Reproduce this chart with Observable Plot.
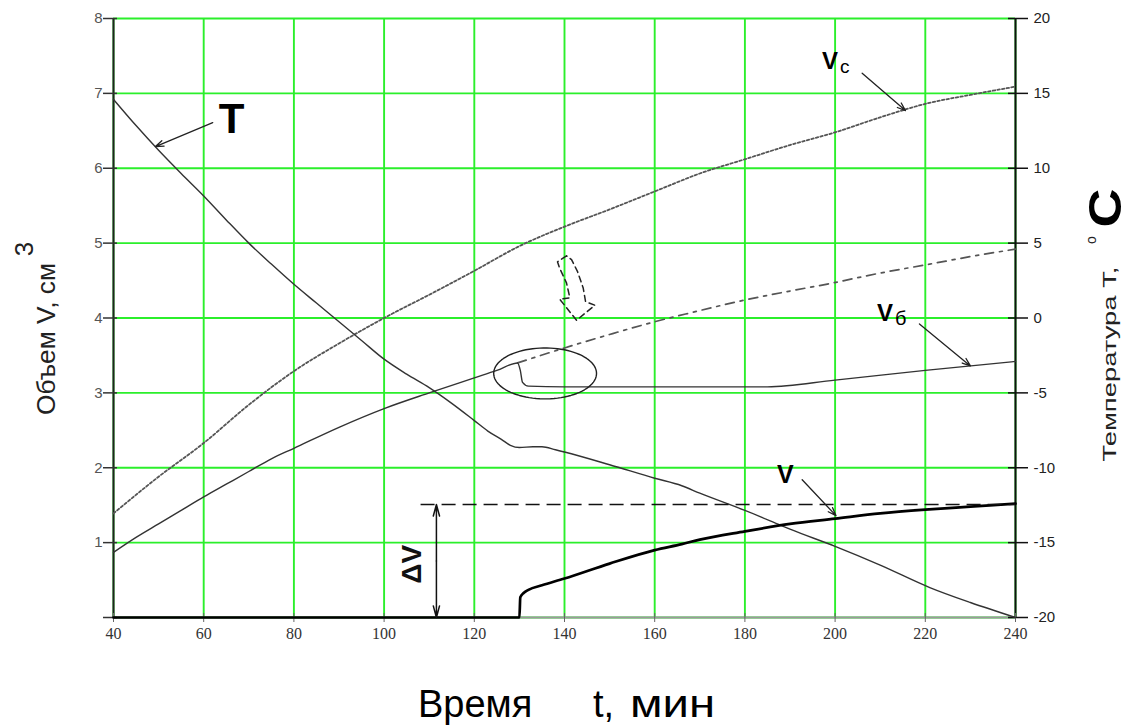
<!DOCTYPE html>
<html><head><meta charset="utf-8">
<script src="https://cdn.jsdelivr.net/npm/d3@7"></script>
<script src="https://cdn.jsdelivr.net/npm/@observablehq/plot@0.6"></script>
<style>body{margin:0;background:#fff;} svg{display:block}</style>
</head><body><div id="chart"></div>
<script>
// ---- data ----
const xTicks = [40, 60, 80, 100, 120, 140, 160, 180, 200, 220, 240];
const vTicks = [0, 1, 2, 3, 4, 5, 6, 7, 8];
const vTickLabels = ["", "1", "2", "3", "4", "5", "6", "7", "8"];
const tempTickLabels = ["-20", "-15", "-10", "-5", "0", "5", "10", "15", "20"];

// temperature T (°C), right axis
const tempTime = [40,45,50,55,60,65,70,75,80,85,90,95,100,105,110,115,120,123,126,128,130,133,135,138,140,150,160,166,170,180,188,190,200,210,221,230,240];
const tempC = [14.6,12.85,11.2,9.65,8.15,6.55,5.0,3.6,2.25,1.0,-0.25,-1.5,-2.75,-3.75,-4.65,-5.7,-6.85,-7.55,-8.1,-8.5,-8.65,-8.6,-8.6,-8.8,-8.95,-9.8,-10.7,-11.2,-11.7,-12.85,-13.85,-14.1,-15.25,-16.5,-18.0,-19.0,-20.0];

// Vc (dotted)
const vcTime = [40,50,60,70,80,90,100,110,120,130,140,150,160,170,180,190,200,210,220,230,240];
const vcVol = [1.39,1.88,2.33,2.84,3.29,3.66,4.0,4.31,4.63,4.96,5.22,5.45,5.69,5.93,6.12,6.31,6.48,6.68,6.86,6.98,7.09];

// Vб (solid, with step)
const vbTime = [40,45,50,55,60,65,70,75,80,90,100,110,120,125,129.6,130.2,130.7,132,140,160,185,200,220,240];
const vbVol = [0.87,1.07,1.25,1.43,1.61,1.78,1.95,2.12,2.26,2.54,2.79,3.0,3.2,3.3,3.4,3.3,3.14,3.09,3.08,3.08,3.08,3.17,3.3,3.42];

// Vб extension (dash-dot)
const vbExtTime = [129.6,140,150,160,168,180,190,198,210,221,230,240];
const vbExtVol = [3.4,3.6,3.78,3.95,4.07,4.24,4.36,4.45,4.6,4.72,4.82,4.92];

// V (thick)
const vTime = [40,130,130.2,131,132,135,140,150,160,166,170,180,190,200,210,220,230,240];
const vVol = [0,0,0.27,0.33,0.37,0.43,0.52,0.72,0.9,0.98,1.04,1.15,1.25,1.32,1.39,1.44,1.48,1.52];

// ΔV marker
const deltaStart = [108.2];
const deltaLevel = [1.51];
const deltaAt = [111.6];

// annotation arrows (t1, v1 -> t2, v2)
const arrowT1 = [62.0, 206.0, 218.7, 192.7];
const arrowV1 = [6.61, 7.27, 3.92, 1.84];
const arrowT2 = [49.3, 215.6, 230.0, 200.2];
const arrowV2 = [6.29, 6.77, 3.36, 1.36];

// ellipse around the break (centre t, centre V, radius t, radius V)
const ellipseC = [135.7, 3.26];
const ellipseR = [11.4, 0.34];

// curved hollow arrow outline
const curlT = [140.44,138.44,138.96,140.44,141.19,138.96,142.67,146.74,144.67,144.15,142.89,141.56,140.44];
const curlV = [4.83,4.75,4.66,4.47,4.27,4.25,3.97,4.17,4.22,4.40,4.62,4.78,4.83];

// ---- tables ----
const zip = (a, b, k1, k2) => a.map((d, i) => ({[k1]: d, [k2]: b[i]}));
const tempData = zip(tempTime, tempC, "t", "T");
const vcData = zip(vcTime, vcVol, "t", "v");
const vbData = zip(vbTime, vbVol, "t", "v");
const vbExtData = zip(vbExtTime, vbExtVol, "t", "v");
const vData = zip(vTime, vVol, "t", "v");
const arrows = arrowT1.map((d, i) => ({t1: d, v1: arrowV1[i], t2: arrowT2[i], v2: arrowV2[i]}));
const curlData = zip(curlT, curlV, "t", "v");
const ellipseData = d3.range(0, 361, 4).map(a => ({
  t: ellipseC[0] + ellipseR[0] * Math.cos(a * Math.PI / 180),
  v: ellipseC[1] + ellipseR[1] * Math.sin(a * Math.PI / 180)
}));
const tempToV = T => (T + 20) / 5;
const green = "#2bef2b";

const chart = Plot.plot({
  width: 1129, height: 725,
  marginLeft: 113, marginRight: 114, marginTop: 18, marginBottom: 108,
  x: {domain: [40, 240]},
  y: {domain: [0, 8]},
  style: {fontFamily: "Arial, 'Liberation Sans', sans-serif", background: "#fff", overflow: "visible"},
  marks: [
    Plot.gridX(xTicks, {stroke: green, strokeOpacity: 1, strokeWidth: 1.9}),
    Plot.gridY(vTicks, {stroke: green, strokeOpacity: 1, strokeWidth: 1.9}),
    // axes lines
    Plot.ruleY([0], {stroke: "#9a9a9a", strokeWidth: 2}),
    Plot.ruleX([40], {stroke: "#222", strokeWidth: 2}),
    Plot.ruleX([240], {stroke: "#111", strokeWidth: 2}),
    // ticks
    Plot.axisY(vTicks, {anchor: "left", tickSize: 14, dx: 4, fill: "none", stroke: "#333", strokeWidth: 1.5, label: null}),
    Plot.axisY(vTicks, {anchor: "left", tickSize: 0, tickPadding: 11, tickFormat: (d, i) => vTickLabels[i], fill: "#555", fontSize: 15, label: null}),
    Plot.axisY(vTicks, {anchor: "right", tickSize: 20, dx: -8, fill: "none", stroke: "#111", strokeWidth: 1.5, label: null}),
    Plot.axisY(vTicks, {anchor: "right", tickSize: 0, tickPadding: 18, tickFormat: (d, i) => tempTickLabels[i], fill: "#222", fontSize: 15, label: null}),
    Plot.axisX(xTicks, {anchor: "bottom", tickSize: 9, dy: -4, fill: "none", stroke: "#666", label: null}),
    Plot.axisX(xTicks, {anchor: "bottom", tickSize: 0, tickPadding: 10, fill: "#333", fontSize: 16, fontFamily: "'Liberation Serif', 'DejaVu Serif', serif", label: null}),
    // curves
    Plot.line(vcData, {x: "t", y: "v", stroke: "#555", strokeWidth: 1.8, strokeDasharray: "2.5,2.2", curve: "monotone-x"}),
    Plot.line(vbExtData, {x: "t", y: "v", stroke: "#555", strokeWidth: 1.7, strokeDasharray: "9,6,3,6", curve: "monotone-x"}),
    Plot.line(vbData, {x: "t", y: "v", stroke: "#333", strokeWidth: 1.4, curve: "monotone-x"}),
    Plot.line(tempData, {x: "t", y: d => tempToV(d.T), stroke: "#333", strokeWidth: 1.4, curve: "monotone-x"}),
    Plot.line(vData, {x: "t", y: "v", stroke: "#000", strokeWidth: 2.7, curve: "monotone-x"}),
    // ΔV
    Plot.ruleY(deltaLevel, {x1: deltaStart[0], x2: 240, stroke: "#111", strokeWidth: 1.5, strokeDasharray: "14,7"}),
    Plot.arrow([{t: deltaAt[0], a: deltaLevel[0] / 2, b: deltaLevel[0]}, {t: deltaAt[0], a: deltaLevel[0] / 2, b: 0}],
      {x1: "t", y1: "a", x2: "t", y2: "b", stroke: "#111", strokeWidth: 1.5, headLength: 12, headAngle: 30}),
    Plot.text(["ΔV"], {x: 106.2, y: 0.71, rotate: -90, fontSize: 28, fontWeight: "bold", fill: "#111", textAnchor: "middle", lineAnchor: "middle"}),
    // ellipse & curly arrow
    Plot.line(ellipseData, {x: "t", y: "v", stroke: "#222", strokeWidth: 1.4, curve: "linear-closed"}),
    Plot.line(curlData, {x: "t", y: "v", stroke: "#222", strokeWidth: 1.5, strokeDasharray: "6,4"}),
    // label arrows
    Plot.arrow(arrows, {x1: "t1", y1: "v1", x2: "t2", y2: "v2", stroke: "#222", strokeWidth: 1.3, headLength: 10, headAngle: 40}),
    // labels
    Plot.text(["T"], {x: 66.2, y: 6.47, fontSize: 42, fontWeight: "bold", fill: "#000", textAnchor: "middle", lineAnchor: "bottom"}),
    Plot.text(["V"], {x: 197.1, y: 7.32, fontSize: 24, fontWeight: "bold", fill: "#000", textAnchor: "start", lineAnchor: "bottom"}),
    Plot.text(["c"], {x: 201.1, y: 7.27, fontSize: 19, fill: "#000", textAnchor: "start", lineAnchor: "bottom"}),
    Plot.text(["V"], {x: 209.3, y: 3.96, fontSize: 24, fontWeight: "bold", fill: "#000", textAnchor: "start", lineAnchor: "bottom"}),
    Plot.text(["б"], {x: 213.3, y: 3.91, fontSize: 20, fill: "#000", textAnchor: "start", lineAnchor: "bottom"}),
    Plot.text(["V"], {x: 187.1, y: 1.8, fontSize: 25, fontWeight: "bold", fill: "#000", textAnchor: "start", lineAnchor: "bottom"})
  ]
});
document.getElementById("chart").appendChild(chart);

// axis titles
const svg = d3.select(chart);
const ff = "Arial, 'Liberation Sans', sans-serif";
svg.append("text").attr("transform", "translate(55,339) rotate(-90)")
  .attr("text-anchor", "middle").attr("font-family", ff).attr("font-size", 26).attr("fill", "#222")
  .attr("textLength", 152).attr("lengthAdjust", "spacingAndGlyphs").text("Объем V, см");
svg.append("text").attr("transform", "translate(33,249) rotate(-90)")
  .attr("text-anchor", "middle").attr("font-family", ff).attr("font-size", 26).attr("fill", "#222").text("3");
svg.append("text").attr("transform", "translate(1116,364) rotate(-90)")
  .attr("text-anchor", "middle").attr("font-family", ff).attr("font-size", 18).attr("fill", "#222")
  .attr("textLength", 195).attr("lengthAdjust", "spacingAndGlyphs").text("Температура T,");
svg.append("text").attr("transform", "translate(1096,240) rotate(-90)")
  .attr("text-anchor", "middle").attr("font-family", ff).attr("font-size", 14).attr("fill", "#222").text("o");
svg.append("text").attr("transform", "translate(1121,208) rotate(-90)")
  .attr("text-anchor", "middle").attr("font-family", ff).attr("font-size", 46).attr("font-weight", "bold").attr("fill", "#000")
  .attr("textLength", 39).attr("lengthAdjust", "spacingAndGlyphs").text("C");
svg.append("text").attr("x", 418).attr("y", 717).attr("text-anchor", "start").attr("font-family", ff).attr("font-size", 38).attr("fill", "#000").text("Время");
svg.append("text").attr("x", 593).attr("y", 717).attr("text-anchor", "start").attr("font-family", ff).attr("font-size", 38).attr("fill", "#000").text("t,");
svg.append("text").attr("x", 630).attr("y", 717).attr("text-anchor", "start").attr("font-family", ff).attr("font-size", 38).attr("fill", "#000")
  .attr("textLength", 85).attr("lengthAdjust", "spacingAndGlyphs").text("мин");
</script></body></html>
